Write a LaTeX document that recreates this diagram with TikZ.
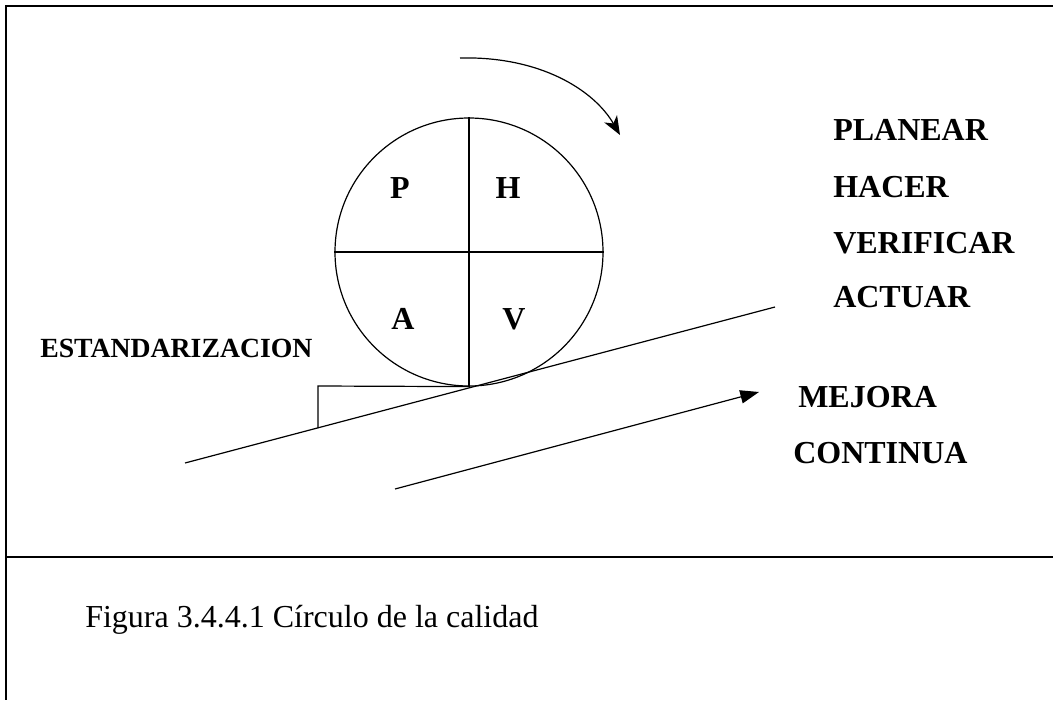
\documentclass[tikz,border=0pt]{standalone}
\usepackage{fontspec}
\setmainfont{Liberation Serif}
\usetikzlibrary{arrows.meta}
\tikzset{
  frameline/.style={line width=1.3pt},
  thinline/.style={line width=0.9pt},
  biglabel/.style={font=\bfseries\fontsize{24}{28}\selectfont, inner sep=0pt, anchor=base west},
  letter/.style={font=\bfseries\fontsize{24}{28}\selectfont, inner sep=0pt, anchor=base},
  tri/.style={-{Triangle[length=14pt,width=10pt]}},
  barb/.style={-{Stealth[length=14pt,width=11pt,inset=4pt]}}
}
\begin{document}
\begin{tikzpicture}[x=0.75pt,y=-0.75pt]
\useasboundingbox (0,0) rectangle (1053,700);
% frame
\coordinate (ftl) at (6,6);
\coordinate (ftr) at (1053,6);
\coordinate (fbl) at (6,700);
\coordinate (dl) at (6,557);
\coordinate (dr) at (1053,557);
\draw[frameline] (ftr) -- (ftl) -- (fbl);
\draw[frameline] (dl) -- (dr);
% circle
\node[draw, thinline, circle, minimum size=268*0.75pt, inner sep=0pt] (c) at (469,252) {};
\draw[thinline] (c.north) -- (c.south);
\draw[thinline] (c.west) -- (c.east);
\node[letter] (p) at (400,198) {P};
\node[letter] (h) at (508,198) {H};
\node[letter] (a) at (403,329) {A};
\node[letter] (v) at (514,329) {V};
% rotation arrow
\coordinate (r1) at (460,58);
\coordinate (r2) at (620,135);
\draw[thinline, barb] (r1) .. controls (540,56) and (594,90) .. (r2);
% slope
\coordinate (s1) at (185,463);
\coordinate (s2) at (775,307);
\draw[thinline] (s1) -- (s2);
% wedge
\coordinate (w1) at (318,428);
\coordinate (w2) at (318,386);
\draw[thinline] (w1) -- (w2) -- (c.south);
% improvement arrow
\coordinate (m1) at (395,489);
\coordinate (m2) at (759,392);
\draw[thinline, tri] (m1) -- (m2);
% labels
\node[biglabel] (pl) at (833,140) {PLANEAR};
\node[biglabel] (ha) at (833,197) {HACER};
\node[biglabel] (ve) at (833,253) {VERIFICAR};
\node[biglabel] (ac) at (833,307) {ACTUAR};
\node[biglabel] (me) at (798,407) {MEJORA};
\node[biglabel] (co) at (793,463) {CONTINUA};
\node[font=\bfseries\fontsize{20.8}{24}\selectfont, inner sep=0pt, anchor=base west] (es) at (40,357) {ESTANDARIZACION};
\node[font=\fontsize{24}{28}\selectfont, inner sep=0pt, anchor=base west] (cap) at (85,627) {Figura 3.4.4.1 Círculo de la calidad};
\end{tikzpicture}
\end{document}
